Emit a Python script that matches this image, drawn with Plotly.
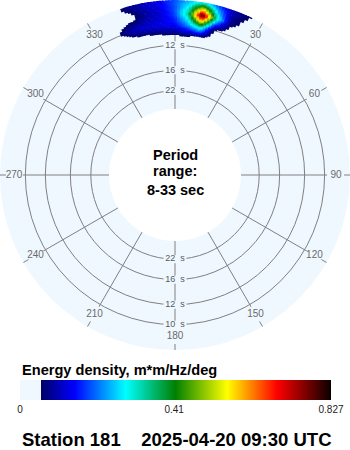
import numpy as np
import plotly.graph_objects as go
from plotly.colors import sample_colorscale

# ---------------- data ----------------
directions = [330, 335, 340, 345, 350, 355, 0, 5, 10, 15, 20, 25, 30, 35]   # deg (nodes)
frequencies = [0.08, 0.09, 0.10, 0.11, 0.12, 0.13]                        # Hz (nodes)
energy = [  # m*m/Hz/deg, rows = frequencies, cols = directions
    [0, 0,    0,    0,    0,    0,    0,    0,    0,     0,    0,    0,    0,    0],
    [0, 0,    0,    0.01, 0.02, 0.03, 0.04, 0.03, 0,     0,    0,    0,    0,    0],
    [0, 0.02, 0.07, 0.11, 0.12, 0.13, 0.14, 0.21, 0.32,  0.05, 0.02, 0.01, 0,    0],
    [0, 0.01, 0.03, 0.04, 0.09, 0.12, 0.18, 0.34, 0.827, 0.33, 0.08, 0.03, 0.01, 0],
    [0, 0.02, 0.04, 0.08, 0.11, 0.14, 0.19, 0.25, 0.32,  0.19, 0.10, 0.06, 0.03, 0],
    [0, 0.02, 0.04, 0.08, 0.11, 0.13, 0.17, 0.21, 0.22,  0.15, 0.10, 0.06, 0.03, 0],
]
ring_periods_top = [12, 16, 22]
ring_periods_bottom = [10, 12, 16, 22]
ring_periods = [10, 12, 16, 22]
angle_labels = [30, 60, 90, 120, 150, 180, 210, 240, 270, 300, 330]
cbar_ticks = [0, 0.41, 0.827]
cbar_ticktext = ["0", "0.41", "0.827"]
e_max = 0.827
station_text = "Station 181\u00a0\u00a0\u00a0\u00a02025-04-20 09:30 UTC"

# ---------------- geometry / style ----------------
W, H = 350, 450
R_PX = 175.0
HOLE = 66 / 175
F0 = 1 / 33
F1 = F0 + 109 / 1200
BG = "#F0F8FF"
GRID = "#808080"
FONT = "Liberation Sans, Arial, sans-serif"


def px_to_f(rpx):
    return F0 + (rpx / R_PX - HOLE) / (1 - HOLE) * (F1 - F0)


def f_to_px(f):
    return R_PX * (HOLE + (1 - HOLE) * (f - F0) / (F1 - F0))


colorscale = [
    [0.0, BG], [0.0675, BG],
    [0.0676, "#000066"], [0.176, "#0000FF"], [0.34, "#00FFFF"],
    [0.5, "#008000"], [0.666, "#FFFF00"], [0.826, "#FF0000"], [1.0, "#0A0000"],
]

# ---------------- display raster of the spectrum (bilinear between nodes, like the original renderer) ----
dir_unwrapped = np.array([d - 360 if d > 180 else d for d in directions], float)
freq_nodes = np.array(frequencies, float)
E = np.array(energy, float)
thr = 0.0676 * e_max

d_step, f_step = 1.0, 0.001
OV = 0.5  # overlap of neighbouring raster cells (hides anti-aliasing seams)
th_cells, base_cells, val_cells, dr_cells = [], [], [], []
for fb in np.arange(0.085, F1, f_step):
    fc = fb + f_step / 2
    row = np.array([np.interp(fc, freq_nodes, E[:, j]) for j in range(E.shape[1])])
    for tb in np.arange(dir_unwrapped[0], dir_unwrapped[-1], d_step):
        tc = tb + d_step / 2
        v = np.interp(tc, dir_unwrapped, row)
        if v >= thr:
            th_cells.append(tc % 360)
            base_cells.append(fb)
            dr_cells.append(min(f_step * (1 + OV), F1 - fb))
            val_cells.append(v)
cell_colors = sample_colorscale(colorscale, [min(v / e_max, 1.0) for v in val_cells])

fig = go.Figure()

# mask: spokes stop at the 10 s ring, short tick outside labels
fig.add_trace(go.Barpolar(
    theta=list(range(0, 360, 30)), width=[30] * 12,
    base=[px_to_f(152)] * 12, r=[px_to_f(169) - px_to_f(152)] * 12,
    marker=dict(color=BG, line=dict(width=0)), hoverinfo="skip", showlegend=False))

# masks behind ring labels
m_th, m_base, m_r, m_w = [], [], [], []
for T in ring_periods:
    f = 1 / T
    rp = f_to_px(f)
    for th in (0, 180):
        m_th.append(th)
        m_w.append(2 * np.degrees(11.5 / rp))
        m_base.append(px_to_f(rp - 4))
        m_r.append(px_to_f(rp + 4) - px_to_f(rp - 4))
fig.add_trace(go.Barpolar(theta=m_th, width=m_w, base=m_base, r=m_r,
                          marker=dict(color=BG, line=dict(width=0)),
                          hoverinfo="skip", showlegend=False))

# spectrum
fig.add_trace(go.Barpolar(
    theta=th_cells, width=[d_step * (1 + OV)] * len(th_cells), base=base_cells, r=dr_cells,
    marker=dict(color=cell_colors, line=dict(width=0)),
    hoverinfo="skip", showlegend=False))

# colour bar (carried by an invisible marker)
fig.add_trace(go.Scatterpolar(
    r=[F0], theta=[0], mode="markers",
    marker=dict(size=0.1, opacity=0, color=[0], colorscale=colorscale, cmin=0, cmax=e_max,
                showscale=True,
                colorbar=dict(
                    orientation="h", x=(20 + 331) / 2 / W, xanchor="center",
                    len=311 / W, lenmode="fraction",
                    y=1 - 380 / H, yanchor="top", thickness=20, thicknessmode="pixels",
                    xpad=0, ypad=0, outlinewidth=0, ticks="",
                    tickvals=cbar_ticks, ticktext=cbar_ticktext,
                    tickfont=dict(size=10, color="#222222", family=FONT))),
    hoverinfo="skip", showlegend=False))

# angle labels
fig.add_trace(go.Scatterpolar(
    r=[px_to_f(161)] * len(angle_labels), theta=angle_labels,
    text=[str(a) for a in angle_labels], mode="text",
    textfont=dict(size=10, color="#6A6A6A", family=FONT),
    hoverinfo="skip", showlegend=False))

# ring labels
rl_r = [1 / T for T in ring_periods_top] + [1 / T for T in ring_periods_bottom]
rl_th = [0] * len(ring_periods_top) + [180] * len(ring_periods_bottom)
rl_tx = [f"{T}\u00a0\u00a0s" for T in ring_periods_top] + [f"{T}\u00a0\u00a0s" for T in ring_periods_bottom]
fig.add_trace(go.Scatterpolar(
    r=rl_r, theta=rl_th, text=rl_tx, mode="text",
    textfont=dict(size=9, color="#5A5A5A", family=FONT),
    hoverinfo="skip", showlegend=False))


def note(text, xpx, ypx, size, xanchor="center"):
    return dict(text=text, x=xpx / W, y=1 - ypx / H, xref="paper", yref="paper",
                xanchor=xanchor, yanchor="middle", showarrow=False,
                font=dict(size=size, color="black", family=FONT))


fig.update_layout(
    width=W, height=H, margin=dict(l=0, r=0, t=0, b=0, autoexpand=False),
    paper_bgcolor="white", plot_bgcolor="white",
    polar=dict(
        domain=dict(x=[0, 1], y=[1 - 350 / H, 1]),
        bgcolor=BG, hole=HOLE, barmode="overlay",
        radialaxis=dict(range=[F0, F1], tickvals=[1 / T for T in ring_periods],
                        showticklabels=False, ticks="", showline=False,
                        gridcolor=GRID, gridwidth=1),
        angularaxis=dict(rotation=90, direction="clockwise", dtick=30,
                         showticklabels=False, ticks="", showline=False,
                         gridcolor=GRID, gridwidth=1),
    ),
    annotations=[
        note("<b>Period</b>", 175, 155, 14.5),
        note("<b>range:</b>", 175, 171, 14.5),
        note("<b>8-33 sec</b>", 175, 190, 14.5),
        note("<b>Energy density, m*m/Hz/deg</b>", 20, 370, 14.6, "left"),
        note("<b>" + station_text + "</b>", 20, 439, 18.5, "left"),
    ],
)

fig.write_html("out.html")
